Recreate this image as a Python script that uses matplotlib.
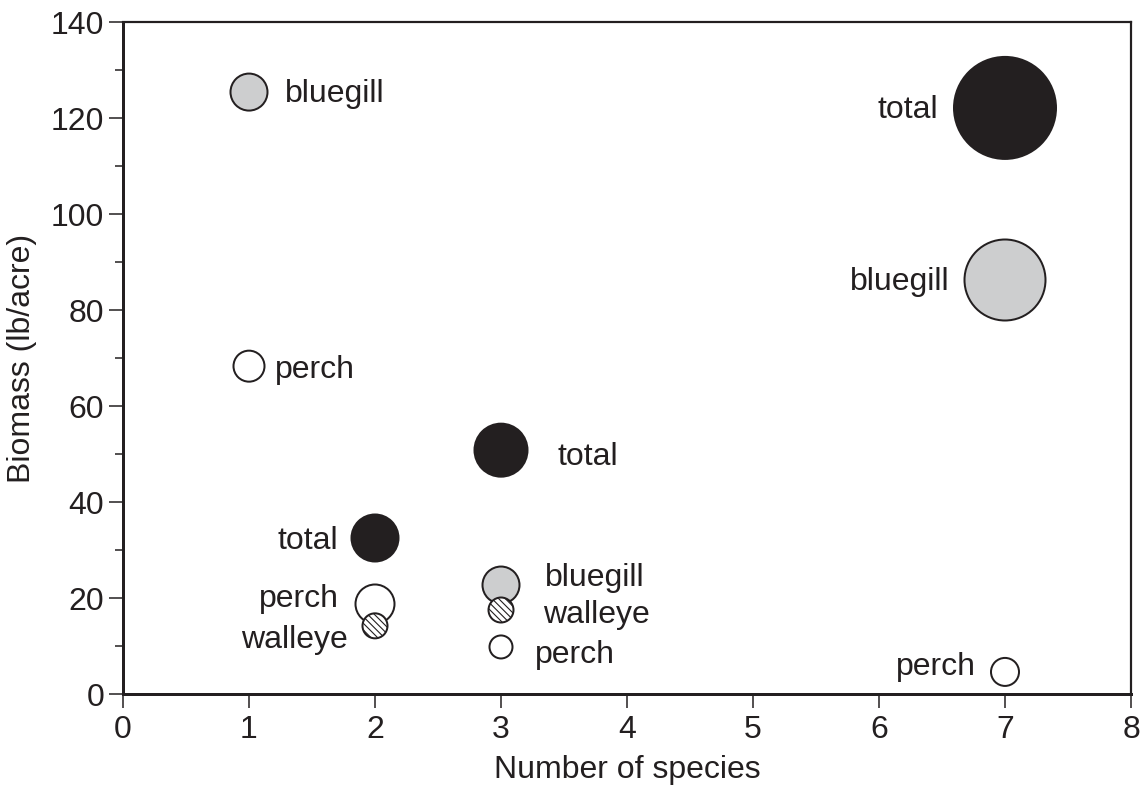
import matplotlib
matplotlib.use("Agg")
import matplotlib.pyplot as plt

plt.rcParams['font.family'] = ['Liberation Sans', 'DejaVu Sans']
plt.rcParams['hatch.color'] = '#555555'
plt.rcParams['hatch.linewidth'] = 0.8

# ---- data ----
labels = ['bluegill', 'perch', 'total', 'total', 'perch', 'walleye',
          'bluegill', 'walleye', 'perch', 'perch', 'total', 'bluegill']
number_of_species = [1, 1, 3, 2, 2, 2, 3, 3, 3, 7, 7, 7]
biomass = [125.4, 68.3, 50.8, 32.5, 18.75, 14.2, 22.7, 17.5, 9.8, 4.6, 122.1, 86.25]
bubble_diam = [39, 33, 55, 49, 41, 27, 39, 27, 25, 30, 104, 83]  # outer diameter (px)

xticks = [0, 1, 2, 3, 4, 5, 6, 7, 8]
yticks = [0, 20, 40, 60, 80, 100, 120, 140]

# ---- layout / style (not data) ----
# label offset in px (dx, dy up) and horizontal alignment
label_offsets = [(36, -2, 'left'), (26, -4, 'left'), (56, -7, 'left'), (-37, -3, 'right'),
                 (-36, 5, 'right'), (-27, -14, 'right'), (44, 7, 'left'), (42, -5, 'left'),
                 (34, -8, 'left'), (-29, 5, 'right'), (-67, -2, 'right'), (-55, -2, 'right')]
ink = '#231f20'
styles = {
    'total': dict(facecolor=ink, hatch=None),
    'bluegill': dict(facecolor='#cdcecf', hatch=None),
    'perch': dict(facecolor='white', hatch=None),
    'walleye': dict(facecolor='white', hatch='\\\\\\\\\\'),
}
draw_order = ['total', 'bluegill', 'perch', 'walleye']
FS = 23

W, H, DPI = 1146, 798, 100
fig = plt.figure(figsize=(W / DPI, H / DPI), dpi=DPI)
ax = fig.add_axes([123 / W, 1 - 694 / H, (1131 - 123) / W, (694 - 22) / H])

lw_px = 2.0
px2pt = 72 / DPI
for z, sp in enumerate(draw_order):
    idx = [i for i, l in enumerate(labels) if l == sp]
    xs = [number_of_species[i] for i in idx]
    ys = [biomass[i] for i in idx]
    ss = [((bubble_diam[i] - lw_px) * px2pt) ** 2 for i in idx]
    st = styles[sp]
    ax.scatter(xs, ys, s=ss, facecolor=st['facecolor'], edgecolor=ink,
               linewidths=lw_px * px2pt, zorder=3 + z, clip_on=False,
               hatch=st['hatch'])

for i, lab in enumerate(labels):
    dx, dy, ha = label_offsets[i]
    ax.annotate(lab, (number_of_species[i], biomass[i]),
                xytext=(dx * px2pt, dy * px2pt), textcoords='offset points',
                ha=ha, va='center', fontsize=FS, color=ink)

ax.set_xlim(0, 8)
ax.set_ylim(0, 140)
ax.set_xticks(xticks)
ax.set_yticks(yticks)
ax.set_yticks(range(10, 140, 20), minor=True)
ax.tick_params(axis='both', which='major', direction='out', length=14 * px2pt,
               width=1.1, colors=ink, labelsize=FS)
ax.tick_params(axis='x', which='major', pad=7 * px2pt)
ax.tick_params(axis='y', which='major', pad=5 * px2pt)
ax.tick_params(axis='y', which='minor', direction='out', length=8 * px2pt,
               width=1.1, colors=ink)
ax.tick_params(axis='x', which='minor', bottom=False)

for side in ['left', 'bottom']:
    ax.spines[side].set_linewidth(3 * px2pt)
    ax.spines[side].set_color(ink)
for side in ['top', 'right']:
    ax.spines[side].set_linewidth(2.2 * px2pt)
    ax.spines[side].set_color(ink)

ax.set_xlabel('Number of species', fontsize=FS, color=ink, labelpad=7)
ax.set_ylabel('Biomass (lb/acre)', fontsize=FS, color=ink, labelpad=10)

fig.savefig('out.png', dpi=DPI)
